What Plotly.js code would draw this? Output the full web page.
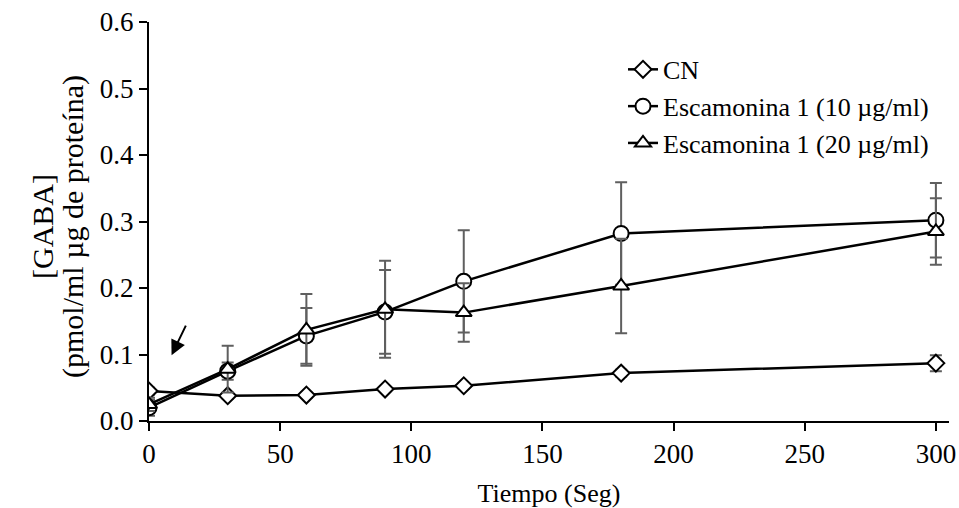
<!DOCTYPE html>
<html>
<head>
<meta charset="utf-8">
<script src="https://cdn.plot.ly/plotly-3.0.1.min.js"></script>
<style>html,body{margin:0;padding:0;background:#fff;}#chart{width:959px;height:508px;}</style>
</head>
<body>
<div id="chart"></div>
<script>
const time = [0, 30, 60, 90, 120, 180, 300];
const cn = [0.045, 0.038, 0.039, 0.048, 0.053, 0.072, 0.087];
const cnErr = [0.005, 0.004, 0.004, 0.004, 0.004, 0.005, 0.012];
const esc10 = [0.020, 0.075, 0.128, 0.164, 0.210, 0.282, 0.302];
const esc10Err = [0.012, 0.013, 0.042, 0.063, 0.077, 0.077, 0.056];
const esc20 = [0.025, 0.078, 0.137, 0.168, 0.163, 0.203, 0.285];
const esc20Err = [0.010, 0.035, 0.054, 0.073, 0.044, 0.071, 0.050];
const seriesNames = ['CN', 'Escamonina 1 (10 µg/ml)', 'Escamonina 1 (20 µg/ml)'];
const xTicks = [0, 50, 100, 150, 200, 250, 300];
const yTicks = [0, 0.1, 0.2, 0.3, 0.4, 0.5, 0.6];
const xTitle = 'Tiempo (Seg)';
const yTitleLines = ['[GABA]', '(pmol/ml µg de proteína)'];

const FONT = '"Liberation Serif", "Times New Roman", serif';
const FS = 27;
function errBar(arr) {
  return {type: 'data', array: arr, visible: true, color: '#5f5f5f', thickness: 2, width: 6};
}
function tr(y, err, name, symbol, size) {
  return {
    x: time, y: y, name: name, type: 'scatter', mode: 'lines+markers',
    line: {color: '#000', width: 2.5},
    marker: {symbol: symbol, size: size, color: '#fff', line: {color: '#000', width: 2}},
    error_y: errBar(err)
  };
}
const data = [
  tr(cn, cnErr, seriesNames[0], 'diamond', 13),
  tr(esc10, esc10Err, seriesNames[1], 'circle', 15),
  tr(esc20, esc20Err, seriesNames[2], 'triangle-up', 14)
];
const L = 149, W = 800, T = 22, H = 399;
const layout = {
  width: 959, height: 508,
  margin: {l: L, r: 10, t: T, b: 87},
  paper_bgcolor: '#fff', plot_bgcolor: '#fff',
  font: {family: FONT, size: FS, color: '#000'},
  showlegend: true,
  legend: {x: 0.5925, y: 0.94, xanchor: 'left', yanchor: 'top', bgcolor: 'rgba(0,0,0,0)',
           font: {family: FONT, size: 26, color: '#000'}, tracegroupgap: 0},
  xaxis: {
    range: [0, 305], tickvals: xTicks, ticktext: xTicks.map(String),
    showgrid: false, zeroline: false, showline: true, linecolor: '#000', linewidth: 2,
    ticks: 'outside', ticklen: 8, tickwidth: 2, tickcolor: '#000',
    tickfont: {family: FONT, size: FS},
    title: {text: xTitle, font: {family: FONT, size: 26}, standoff: 16}
  },
  yaxis: {
    range: [0, 0.6], tickvals: yTicks, ticktext: yTicks.map(v => v.toFixed(1)),
    showgrid: false, zeroline: false, showline: true, linecolor: '#000', linewidth: 2,
    ticks: 'outside', ticklen: 8, tickwidth: 2, tickcolor: '#000',
    tickfont: {family: FONT, size: FS}
  },
  annotations: [
    {xref: 'paper', yref: 'paper', x: (42 - L) / W, y: 1 - (227 - T) / H, text: yTitleLines[0],
     textangle: -90, showarrow: false, xanchor: 'center', yanchor: 'middle',
     font: {family: FONT, size: 30, color: '#000'}},
    {xref: 'paper', yref: 'paper', x: (73 - L) / W, y: 1 - (227 - T) / H, text: yTitleLines[1],
     textangle: -90, showarrow: false, xanchor: 'center', yanchor: 'middle',
     font: {family: FONT, size: 30, color: '#000'}},
    {x: 8.6, y: 0.099, xref: 'x', yref: 'y', text: '', showarrow: true,
     ax: 15, ay: -31, arrowhead: 2, arrowsize: 1.5, arrowwidth: 2, arrowcolor: '#000'}
  ]
};
Plotly.newPlot('chart', data, layout, {displayModeBar: false, staticPlot: true});
</script>
</body>
</html>
